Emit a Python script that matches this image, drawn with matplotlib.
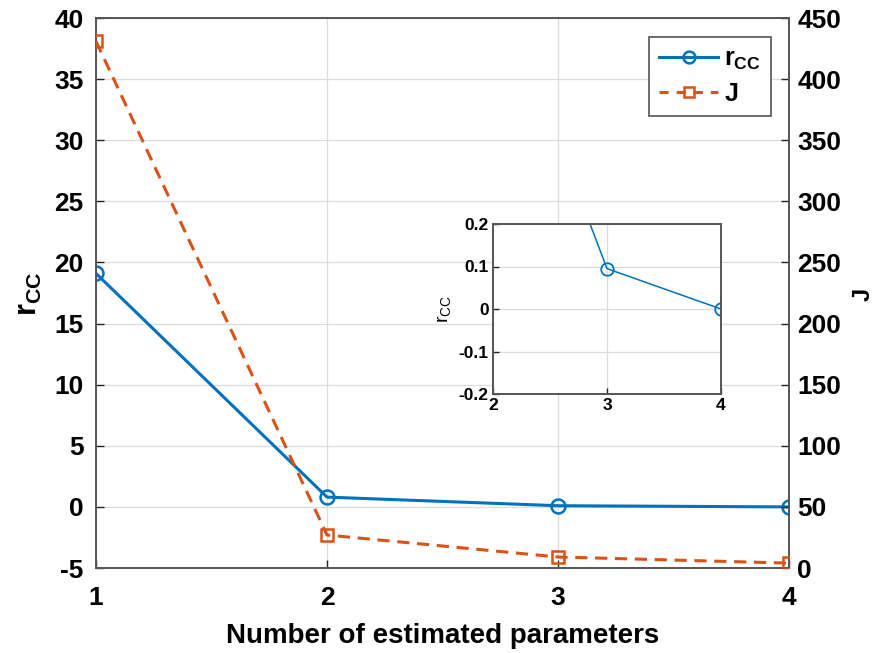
import matplotlib
matplotlib.use("Agg")
import matplotlib.pyplot as plt
from matplotlib.lines import Line2D

plt.rcParams['font.family'] = ['Liberation Sans', 'DejaVu Sans']
plt.rcParams['mathtext.fontset'] = 'custom'
plt.rcParams['mathtext.rm'] = 'Liberation Sans'
plt.rcParams['mathtext.bf'] = 'Liberation Sans:bold'
plt.rcParams['axes.unicode_minus'] = False

# data
n_params = [1, 2, 3, 4]
r_cc = [19.1, 0.8, 0.095, 0.0]
J_vals = [431, 27, 9, 4]

blue = '#0072BD'
orange = '#D95319'
axis_col = '#262626'
grid_col = '#dcdcdc'
spine_col = '#555555'

W, H = 874, 653
fig = plt.figure(figsize=(W / 100, H / 100), dpi=100)
ax = fig.add_axes([96 / W, 1 - 568 / H, (789 - 96) / W, (568 - 18) / H])
ax2 = ax.twinx()

ax.plot(n_params, r_cc, '-o', color=blue, lw=2.2, ms=10, mfc='none', mew=1.8, zorder=3)
ax2.plot(n_params, J_vals, '--s', color=orange, lw=2.2, ms=8.5, mfc='none', mew=1.8,
         dashes=(4, 2.5), zorder=3)

ax.set_xlim(1, 4)
ax.set_ylim(-5, 40)
ax2.set_ylim(0, 450)
ax.set_xticks([1, 2, 3, 4])
ax.set_yticks(range(-5, 41, 5))
ax2.set_yticks(range(0, 451, 50))
ax.grid(True, color=grid_col, lw=0.9)
ax.set_axisbelow(True)

for a in (ax, ax2):
    a.tick_params(direction='in', length=6, width=1, colors=axis_col,
                  labelsize=19, labelcolor='black')
    for lbl in a.get_xticklabels() + a.get_yticklabels():
        lbl.set_fontweight('bold')
    for s in a.spines.values():
        s.set_color(spine_col)
        s.set_linewidth(1.2)
ax.tick_params(axis='x', pad=13)
ax.tick_params(axis='y', pad=9)
ax2.tick_params(axis='y', pad=6)

ax.set_xlabel('Number of estimated parameters', fontsize=20, fontweight='bold', labelpad=9)
fig.text(14 / W, 1 - 294 / H, r'$\mathbf{r_{CC}}$', fontsize=22, rotation=90,
         ha='left', va='center')
fig.text(852 / W, 1 - 294 / H, 'J', fontsize=17, fontweight='bold', rotation=90,
         ha='left', va='center')

handles = [
    Line2D([], [], color=blue, lw=2.2, marker='o', ms=8.5, mfc='none', mew=1.8),
    Line2D([], [], color=orange, lw=2.2, ls='--', dashes=(3, 2.6), marker='s', ms=7,
           mfc='none', mew=1.8),
]
leg = fig.legend(handles, [r'$\mathbf{r_{CC}}$', r'$\mathbf{J}$'], loc='upper right',
                 bbox_to_anchor=(771 / W, 1 - 37 / H), bbox_transform=fig.transFigure,
                 borderaxespad=0, fontsize=18, frameon=True, fancybox=False,
                 handlelength=2.35, borderpad=0.4, labelspacing=0.4, handletextpad=0.25)
leg.get_frame().set_edgecolor(spine_col)
leg.get_frame().set_linewidth(1.2)
leg.get_frame().set_alpha(1)

# inset zoom on the tail
axin = fig.add_axes([493 / W, 1 - 394 / H, (721 - 493) / W, (394 - 224) / H])
axin.plot(n_params, r_cc, '-o', color=blue, lw=1.1, ms=9, mfc='none', mew=1.3)
axin.set_xlim(2, 4)
axin.set_ylim(-0.2, 0.2)
axin.set_xticks([2, 3, 4])
axin.set_yticks([-0.2, -0.1, 0, 0.1, 0.2])
axin.set_yticklabels(['-0.2', '-0.1', '0', '0.1', '0.2'])
axin.grid(True, color=grid_col, lw=0.9)
axin.set_axisbelow(True)
axin.tick_params(direction='in', length=4, width=1, colors=axis_col, labelsize=12.5,
                 labelcolor='black', pad=3)
for lbl in axin.get_xticklabels() + axin.get_yticklabels():
    lbl.set_fontweight('bold')
for s in axin.spines.values():
    s.set_color(spine_col)
    s.set_linewidth(1.4)
axin.set_ylabel(r'$\mathrm{r_{CC}}$', fontsize=14, labelpad=4)

fig.savefig('out.png', dpi=100)
